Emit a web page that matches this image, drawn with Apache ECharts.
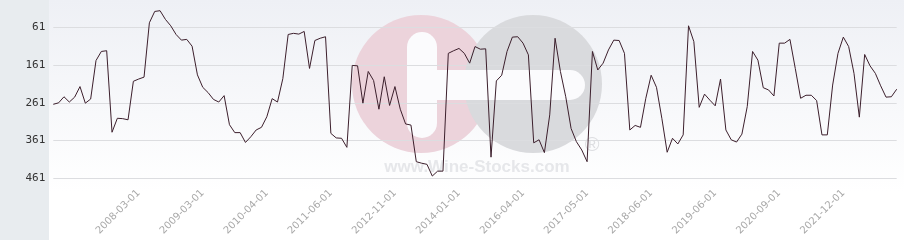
<!DOCTYPE html>
<html>
<head>
<meta charset="utf-8">
<script src="https://cdn.jsdelivr.net/npm/echarts@6/dist/echarts.min.js"></script>
<style>
html,body{margin:0;padding:0;background:#fff;}
#chart{width:904px;height:240px;}
</style>
</head>
<body>
<div id="chart"></div>
<script>
var categories = [
"2006-11-01","2006-12-01","2007-01-01","2007-02-01","2007-03-01","2007-04-01","2007-05-01","2007-06-01","2007-07-01","2007-08-01",
"2007-09-01","2007-10-01","2007-11-01","2007-12-01","2008-01-01","2008-02-01","2008-03-01","2008-04-01","2008-05-01","2008-06-01",
"2008-07-01","2008-08-01","2008-09-01","2008-10-01","2008-11-01","2008-12-01","2009-01-01","2009-02-01","2009-03-01","2009-04-01",
"2009-05-01","2009-06-01","2009-07-01","2009-09-01","2009-10-01","2009-11-01","2009-12-01","2010-01-01","2010-02-01","2010-03-01",
"2010-04-01","2010-05-01","2010-06-01","2010-07-01","2010-09-01","2010-10-01","2010-11-01","2010-12-01","2011-01-01","2011-02-01",
"2011-03-01","2011-05-01","2011-06-01","2011-07-01","2011-09-01","2011-10-01","2011-12-01","2012-01-01","2012-03-01","2012-04-01",
"2012-06-01","2012-07-01","2012-09-01","2012-10-01","2012-11-01","2012-12-01","2013-01-01","2013-02-01","2013-04-01","2013-05-01",
"2013-06-01","2013-07-01","2013-09-01","2013-10-01","2013-11-01","2013-12-01","2014-01-01","2014-03-01","2014-06-01","2014-09-01",
"2014-11-01","2015-01-01","2015-04-01","2015-06-01","2015-09-01","2015-11-01","2016-01-01","2016-03-01","2016-04-01","2016-05-01",
"2016-06-01","2016-07-01","2016-08-01","2016-10-01","2016-11-01","2016-12-01","2017-01-01","2017-02-01","2017-03-01","2017-04-01",
"2017-05-01","2017-06-01","2017-07-01","2017-08-01","2017-09-01","2017-11-01","2017-12-01","2018-01-01","2018-02-01","2018-03-01",
"2018-04-01","2018-05-01","2018-06-01","2018-07-01","2018-08-01","2018-09-01","2018-10-01","2018-11-01","2018-12-01","2019-01-01",
"2019-02-01","2019-03-01","2019-04-01","2019-05-01","2019-06-01","2019-07-01","2019-08-01","2019-10-01","2019-11-01","2020-01-01",
"2020-02-01","2020-03-01","2020-04-01","2020-06-01","2020-07-01","2020-08-01","2020-09-01","2020-10-01","2020-11-01","2021-01-01",
"2021-02-01","2021-03-01","2021-05-01","2021-06-01","2021-07-01","2021-09-01","2021-10-01","2021-11-01","2021-12-01","2022-01-01",
"2022-02-01","2022-03-01","2022-04-01","2022-05-01","2022-06-01","2022-07-01","2022-08-01","2022-09-01","2022-10-01"
];
var rankValues = [
265,261,245,259,246,218,262,251,149,125,123,339,302,303,306,204,198,193,49,19,17,40,57,80,95,93,111,187,
220,234,252,259,242,319,340,340,366,351,333,326,298,250,259,197,80,77,79,72,170,96,90,86,342,354,355,379,
162,163,262,178,202,278,192,268,218,278,317,320,417,421,424,455,442,442,130,123,117,130,156,112,119,118,405,203,
188,125,87,86,103,134,367,359,393,293,90,178,245,329,364,386,417,125,174,156,121,95,96,130,333,321,326,
249,188,220,302,392,355,370,346,57,99,273,238,254,269,198,333,359,365,344,271,125,148,221,227,243,103,103,93,170,249,
241,241,255,346,346,214,130,87,112,183,299,133,163,183,216,246,245,225
];
var yTicks = [61,161,261,361,461];
var labelDates = ["2008-03-01","2009-03-01","2010-04-01","2011-06-01","2012-11-01","2014-01-01","2016-04-01","2017-05-01","2018-06-01","2019-06-01","2020-09-01","2021-12-01"];
var watermarkText = "www.Wine-Stocks.com";

var chart = echarts.init(document.getElementById('chart'), null, {renderer:'canvas'});
chart.setOption({
  animation:false,
  backgroundColor:'#ffffff',
  graphic:[
    {type:'rect', z:-100, silent:true, shape:{x:0,y:0,width:49,height:240}, style:{fill:'#e8ecef'}},
    {type:'rect', z:-100, silent:true, shape:{x:49,y:0,width:855,height:240},
      style:{fill:new echarts.graphic.LinearGradient(0,0,0,1,[{offset:0,color:'#eef0f5'},{offset:0.8,color:'#ffffff'},{offset:1,color:'#ffffff'}])}},
    {type:'circle', z:-90, silent:true, shape:{cx:421,cy:84,r:69}, style:{fill:'#ecd3db'}},
    {type:'circle', z:-89, silent:true, shape:{cx:533,cy:84,r:69}, style:{fill:'#d9dadd'}},
    {type:'rect', z:-88, silent:true, shape:{x:407,y:32,width:30,height:106,r:15}, style:{fill:'#fbfbfd'}},
    {type:'rect', z:-88, silent:true, shape:{x:407,y:70,width:178,height:30,r:15}, style:{fill:'#fbfbfd'}},
    {type:'text', z:-87, silent:true, x:477, y:167, style:{text:watermarkText, fill:'#e6e7ea', font:'bold 17px "Liberation Sans", Arial, sans-serif', align:'center', verticalAlign:'middle'}},
    {type:'text', z:-87, silent:true, x:592, y:145, style:{text:'\u00ae', fill:'#dddee1', font:'20px "Liberation Sans", Arial, sans-serif', align:'center', verticalAlign:'middle'}}
  ],
  grid:{left:53.3, right:7.3, top:27.3, bottom:61.7, containLabel:false, outerBoundsMode:'none'},
  xAxis:{
    type:'category', data:categories, boundaryGap:false,
    axisLine:{show:false}, axisTick:{show:false}, splitLine:{show:false},
    axisLabel:{
      rotate:45, color:'#a8a8a8', fontSize:10, fontFamily:'DejaVu Sans', margin:13,
      interval:function(idx, val){ return labelDates.indexOf(val) >= 0; }
    }
  },
  yAxis:{
    type:'value', inverse:true, min:yTicks[0], max:yTicks[yTicks.length-1], interval:100,
    axisLine:{show:false}, axisTick:{show:false},
    splitLine:{lineStyle:{color:'#dcdde0', width:1}},
    axisLabel:{color:'#333333', fontSize:11, fontFamily:'DejaVu Sans Mono', margin:8}
  },
  series:[{
    type:'line', data:rankValues, showSymbol:false, clip:false,
    lineStyle:{color:'#3c1f2c', width:1}, itemStyle:{color:'#3c1f2c'}
  }]
});
</script>
</body>
</html>
